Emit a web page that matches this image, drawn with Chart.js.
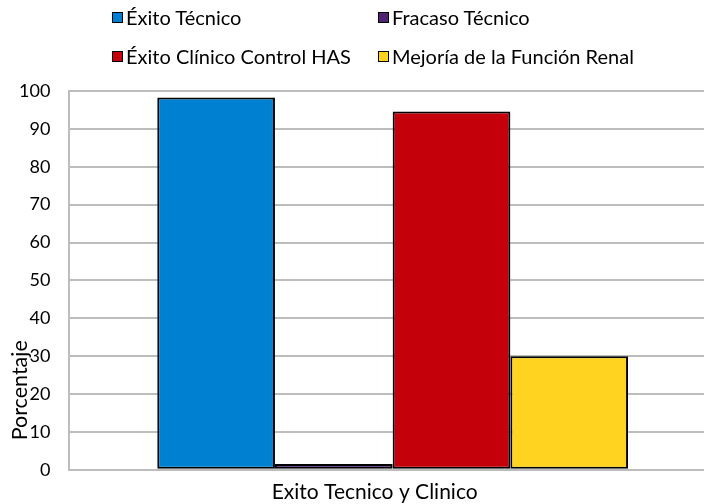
<!DOCTYPE html>
<html>
<head>
<meta charset="utf-8">
<script src="https://cdn.jsdelivr.net/npm/chart.js@4"></script>
<style>
  body { margin: 0; overflow: hidden; background: #fff; font-family: Lato, sans-serif; }
  #wrap { position: absolute; left: 0; top: 0; width: 716px; height: 509px; }
  #legend { position: absolute; left: 0; top: 0; width: 704px; height: 80px; font-size: 20px; color: #000; }
  .item { position: absolute; display: flex; align-items: center; white-space: nowrap; }
  .box { width: 9px; height: 9px; border: 1.5px solid #000; margin-right: 3px; }
</style>
</head>
<body>
<div id="wrap"><canvas id="myChart" width="716" height="509"></canvas></div>
<div id="legend"></div>
<script>
  // data
  var categories = ["Exito Tecnico y Clinico"];
  var seriesNames = ["Éxito Técnico", "Fracaso Técnico", "Éxito Clínico Control HAS", "Mejoría de la Función Renal"];
  var seriesValues = [98.3, 1.5, 94.6, 30];
  var seriesColors = ["#0080D0", "#512373", "#C4000B", "#FFD320"];
  var yTicks = [0, 10, 20, 30, 40, 50, 60, 70, 80, 90, 100];

  var gridColor = "#bdbdbd";

  // y title sits low and overlaps the tick labels, so it is drawn by hand
  var yTitlePlugin = {
    id: "yTitle",
    afterDraw: function (chart) {
      var ctx = chart.ctx;
      var y = chart.scales.y.getPixelForValue(21);
      ctx.save();
      ctx.translate(20, y);
      ctx.rotate(-Math.PI / 2);
      ctx.font = "21.5px Lato";
      ctx.fillStyle = "#000";
      ctx.textAlign = "center";
      ctx.textBaseline = "middle";
      ctx.fillText("Porcentaje", 0, 0);
      ctx.restore();
    }
  };

  var datasets = seriesNames.map(function (name, i) {
    return {
      label: name,
      data: [seriesValues[i]],
      backgroundColor: seriesColors[i],
      borderColor: "#000",
      borderWidth: 2,
      borderSkipped: false
    };
  });

  var ctx = document.getElementById("myChart").getContext("2d");
  var myChart = new Chart(ctx, {
    type: "bar",
    data: { labels: categories, datasets: datasets },
    options: {
      responsive: false,
      animation: false,
      layout: { padding: { left: 0, top: 91, right: 0, bottom: 2 } },
      datasets: { bar: { categoryPercentage: 0.728, barPercentage: 1 } },
      plugins: {
        legend: { display: false },
        tooltip: { enabled: false }
      },
      scales: {
        x: {
          grid: { display: false },
          border: { display: true, color: gridColor, width: 2 },
          ticks: { color: "#000", font: { family: "Lato", size: 21 }, padding: 2, labelOffset: -18 }
        },
        y: {
          min: 0,
          max: 100,
          afterBuildTicks: function (axis) {
            axis.ticks = yTicks.map(function (v) { return { value: v }; });
          },
          grid: { color: gridColor, lineWidth: 2, drawTicks: false },
          border: { display: true, color: gridColor, width: 2 },
          ticks: { color: "#000", font: { family: "Lato", size: 18 }, padding: 19 }
        }
      }
    },
    plugins: [yTitlePlugin]
  });

  // legend in a 2 x 2 grid like the original
  var legendPos = [[112, 18], [378, 18], [112, 57], [378, 57]];
  var legendEl = document.getElementById("legend");
  myChart.data.datasets.forEach(function (ds, i) {
    var item = document.createElement("div");
    item.className = "item";
    item.style.left = legendPos[i][0] + "px";
    item.style.top = (legendPos[i][1] - 13) + "px";
    item.innerHTML = '<span class="box" style="background:' + ds.backgroundColor + '"></span>' + ds.label;
    legendEl.appendChild(item);
  });
</script>
</body>
</html>
